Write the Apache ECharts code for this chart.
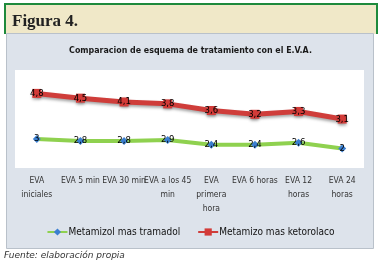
<!DOCTYPE html>
<html><head><meta charset="utf-8">
<script src="https://cdn.jsdelivr.net/npm/echarts@6/dist/echarts.min.js"></script>
<style>html,body{margin:0;padding:0;background:#fff}#c{width:381px;height:263px}</style>
</head><body><div id="c"></div>
<script>
const categories = ["EVA\niniciales", "EVA 5 min", "EVA 30 min", "EVA a los 45\nmin", "EVA\nprimera\nhora", "EVA 6 horas", "EVA 12\nhoras", "EVA 24\nhoras"];
const seriesNames = ["Metamizol mas tramadol", "Metamizo mas ketorolaco"];
const tramadol = [3, 2.8, 2.8, 2.9, 2.4, 2.4, 2.6, 2];
const ketorolaco = [4.8, 4.5, 4.1, 3.8, 3.6, 3.2, 3.3, 3.1];

const narrow = '"Liberation Sans Narrow","DejaVu Sans Condensed",sans-serif';
const chart = echarts.init(document.getElementById('c'), null, {renderer: 'canvas'});
const fmt = p => String(p.value).replace('.', ',');
chart.setOption({
  animation: false,
  graphic: [
    {type: 'rect', shape: {x: 5, y: 3, width: 372, height: 31}, style: {fill: '#f0e8c8'}, z: -10},
    {type: 'polyline', shape: {points: [[5, 34], [5, 4], [377, 4], [377, 34]]}, style: {stroke: '#1e8a3c', lineWidth: 2, fill: null}, z: -10},
    {type: 'rect', shape: {x: 6.5, y: 33.5, width: 367, height: 215}, style: {fill: '#dde3eb', stroke: '#b9c1ca', lineWidth: 1}, z: -9},
    {type: 'rect', shape: {x: 15, y: 70, width: 349, height: 98}, style: {fill: '#ffffff'}, z: -8},
    {type: 'text', left: 12, top: 13, style: {text: 'Figura 4.', font: 'bold 17px "Liberation Serif",serif', fill: '#222'}},
    {type: 'text', left: 4, top: 251, style: {text: 'Fuente: elaboración propia', font: 'italic 9px "DejaVu Sans",sans-serif', fill: '#333'}}
  ],
  title: {
    text: 'Comparacion de esquema de tratamiento con el E.V.A.',
    left: 'center', top: 41,
    textStyle: {fontFamily: narrow, fontSize: 8.8, fontWeight: 'bold', color: '#1a1a1a'}
  },
  legend: {
    bottom: 21, left: 'center',
    itemWidth: 20, itemHeight: 9, itemGap: 17,
    textStyle: {fontFamily: narrow, fontSize: 10, color: '#111', padding: [0, 0, 0, -4]},
    data: seriesNames
  },
  grid: {left: 15, right: 17, top: 72.5, bottom: 95.5},
  xAxis: {
    type: 'category', data: categories, boundaryGap: true,
    axisLine: {show: false}, axisTick: {show: false},
    axisLabel: {interval: 0, fontFamily: narrow, fontSize: 8.5, color: '#333', lineHeight: 14, margin: 6}
  },
  yAxis: {type: 'value', min: 0, max: 10, show: false, splitLine: {show: false}},
  series: [
    {
      name: seriesNames[0], type: 'line', stack: 'eva', data: tramadol,
      symbol: 'diamond', symbolSize: 8,
      lineStyle: {color: '#8fd14f', width: 4},
      itemStyle: {color: '#3b7fd1'},
      label: {show: true, position: 'inside', formatter: fmt, fontFamily: narrow, fontSize: 9.5, color: '#000'}
    },
    {
      name: seriesNames[1], type: 'line', stack: 'eva', data: ketorolaco,
      symbol: 'rect', symbolSize: 9,
      lineStyle: {color: '#cf3d3a', width: 5, shadowColor: 'rgba(0,0,0,0.35)', shadowBlur: 3, shadowOffsetY: 2},
      itemStyle: {color: '#d33b38', shadowColor: 'rgba(0,0,0,0.35)', shadowBlur: 3, shadowOffsetY: 2},
      label: {show: true, position: 'inside', formatter: fmt, fontFamily: narrow, fontSize: 9.5, color: '#000'}
    }
  ]
});
</script></body></html>
